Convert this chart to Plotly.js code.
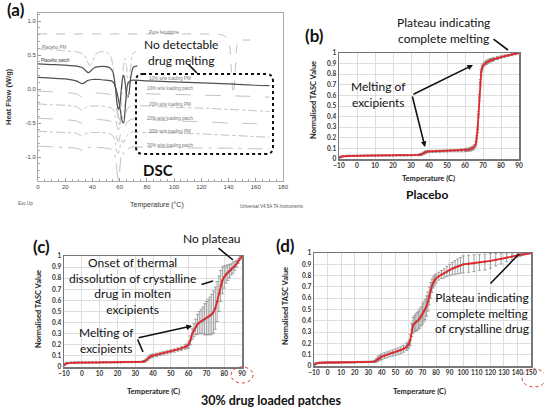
<!DOCTYPE html>
<html><head><meta charset="utf-8">
<script src="https://cdn.plot.ly/plotly-3.0.1.min.js"></script>
<style>html,body{margin:0;padding:0;background:#fff}#chart{width:544px;height:409px}</style>
</head><body><div id="chart"></div>
<script>
// ---------- DSC (a) data ----------
const felodipineTemp = [0,20,40,60,80,100,120,134,137,139,141,142,143,143.8,145,146,147,150,156];
const felodipineHF   = [0.81,0.81,0.81,0.81,0.81,0.81,0.81,0.80,0.78,0.74,0.6,0.3,0.0,-0.08,0.3,0.62,0.71,0.72,0.72];
const placeboPMTemp = [0,10,20,30,34,36,38,40,42,46,50,53,55,57,59,60,61,62,63,64,65,66,67,68,69,70,72];
const placeboPMHF   = [0.59,0.58,0.56,0.54,0.5,0.42,0.34,0.4,0.5,0.55,0.54,0.5,0.35,0.0,-0.4,-0.55,-0.3,0.1,0.38,0.45,0.35,0.1,0.05,0.3,0.48,0.53,0.55];
const placeboPatchTemp = [0,10,20,30,33,35,37,39,41,45,50,53,55,56,57,58,59,60,61,62,63,64,65,66,67,68,70,73];
const placeboPatchHF   = [0.37,0.36,0.35,0.33,0.31,0.27,0.24,0.27,0.31,0.33,0.33,0.31,0.25,0.15,0.0,-0.2,-0.3,-0.25,-0.05,0.15,0.2,0.1,-0.08,-0.12,-0.05,0.15,0.32,0.34];
const pm10Temp = [0,10,20,28,30,32,34,36,40,45,50,54,56,58,60,61,62,63,64,65,66,68,70,80,100,120,140,160,170];
const pm10HF   = [0.17,0.16,0.15,0.12,0.1,0.08,0.09,0.12,0.14,0.14,0.13,0.12,0.08,-0.05,-0.25,-0.38,-0.48,-0.5,-0.3,-0.05,0.08,0.12,0.13,0.12,0.105,0.09,0.075,0.055,0.05];
const loadingTemp = [0,10,20,28,30,32,34,36,40,45,50,54,56,57,58,59,60,61,62,63,64,66,68,70,80,100,120,140,160,170];
const patch10HF = [-0.03,-0.04,-0.05,-0.07,-0.09,-0.12,-0.1,-0.07,-0.06,-0.06,-0.07,-0.09,-0.14,-0.22,-0.33,-0.42,-0.45,-0.35,-0.25,-0.28,-0.22,-0.1,-0.07,-0.06,-0.07,-0.08,-0.09,-0.1,-0.11,-0.12];
const pm20HF    = [-0.22,-0.23,-0.24,-0.26,-0.28,-0.31,-0.29,-0.26,-0.25,-0.25,-0.26,-0.28,-0.33,-0.42,-0.55,-0.62,-0.58,-0.45,-0.4,-0.44,-0.38,-0.28,-0.25,-0.24,-0.25,-0.27,-0.28,-0.3,-0.32,-0.33];
const patch20HF = [-0.43,-0.44,-0.45,-0.47,-0.49,-0.5,-0.48,-0.46,-0.45,-0.45,-0.46,-0.48,-0.53,-0.62,-0.72,-0.78,-0.72,-0.6,-0.56,-0.6,-0.55,-0.48,-0.45,-0.44,-0.45,-0.47,-0.48,-0.5,-0.51,-0.52];
const pm30HF    = [-0.62,-0.63,-0.64,-0.65,-0.67,-0.69,-0.67,-0.65,-0.64,-0.64,-0.65,-0.67,-0.72,-0.82,-0.93,-0.95,-0.88,-0.78,-0.75,-0.79,-0.74,-0.67,-0.64,-0.63,-0.64,-0.65,-0.66,-0.68,-0.7,-0.71];
const patch30HF = [-0.84,-0.85,-0.86,-0.87,-0.88,-0.9,-0.88,-0.86,-0.86,-0.86,-0.87,-0.89,-0.94,-1.02,-1.2,-1.38,-1.2,-1.0,-0.93,-0.96,-0.92,-0.88,-0.86,-0.85,-0.86,-0.86,-0.87,-0.87,-0.88,-0.88];
const dscLabels = ["Pure felodipine","Placebo PM","Placebo patch","10% w/w loading PM","10% w/w loading patch","20% w/w loading PM","20% w/w loading patch","30% w/w loading PM","30% w/w loading patch"];

// ---------- TASC (b) Placebo ----------
const tempB = [-10,-9,-8,-6,-4,-2,0,2,4,6,8,10,12,14,16,18,20,22,24,26,28,30,32,34,35,36,37,38,39,40,42,44,46,48,50,52,54,56,58,60,61,62,63,64,65,66,66.5,67,67.5,68,68.5,69,69.5,70,71,72,73,74,75,76,78,80,82,84,86,88,90];
const tascB = [0.012,0.02,0.025,0.028,0.03,0.03,
 0.03,0.031,0.031,0.032,0.032,0.032,0.033,0.033,0.034,0.034,0.034,0.035,0.035,0.035,0.036,0.036,0.037,0.038,
 0.04,0.045,0.055,0.064,0.069,0.071,
 0.072,0.073,0.074,0.075,0.076,0.077,0.078,0.079,0.081,0.084,
 0.086,0.089,0.093,0.1,0.112,0.14,
 0.19,0.28,0.42,0.58,0.72,0.82,0.86,0.88,
 0.9,0.912,0.922,0.93,0.936,0.942,
 0.952,0.962,0.97,0.977,0.985,0.992,1.0];
const errB = [0.005,0.005,0.005,0.005,0.005,0.005,
 0.005,0.005,0.005,0.005,0.005,0.005,0.005,0.005,0.005,0.005,0.005,0.005,0.005,0.005,0.005,0.005,0.005,0.005,
 0.008,0.01,0.012,0.012,0.01,0.01,
 0.01,0.01,0.01,0.01,0.01,0.01,0.01,0.012,0.014,0.015,
 0.015,0.015,0.018,0.02,0.022,0.025,
 0.03,0.03,0.03,0.03,0.03,0.03,0.025,0.02,
 0.02,0.02,0.018,0.018,0.016,0.016,
 0.014,0.012,0.012,0.01,0.01,0.008,0.005];

// ---------- TASC (c) 30% PM ----------
const tempC = [-10,-9,-8,-6,-4,-2,0,2,4,6,8,10,12,14,16,18,20,22,24,26,28,30,32,34,35,36,37,38,39,40,42,44,46,48,50,52,54,56,58,59,60,61,62,63,64,65,66,67,68,69,70,71,72,73,74,75,76,77,78,79,80,81,82,83,84,85,86,87,88,89,90];
const tascC = [0.015,0.03,0.035,0.038,0.04,0.04,
 0.04,0.04,0.04,0.041,0.041,0.041,0.042,0.042,0.042,0.043,0.043,0.043,0.044,0.044,0.045,0.045,0.046,0.047,
 0.05,0.06,0.075,0.09,0.098,0.103,
 0.11,0.118,0.125,0.132,0.14,0.148,0.158,0.168,0.18,
 0.188,0.2,0.24,0.3,0.33,0.36,0.385,0.4,0.41,0.42,0.43,0.44,0.45,0.46,0.475,0.495,0.53,0.59,0.66,0.73,0.78,0.81,0.835,0.85,0.865,0.88,0.895,0.91,0.93,0.955,0.98,1.0];
const errC = [0.005,0.005,0.005,0.005,0.005,0.005,
 0.005,0.005,0.005,0.005,0.005,0.005,0.005,0.005,0.005,0.005,0.005,0.005,0.005,0.005,0.005,0.005,0.005,0.005,
 0.01,0.012,0.015,0.015,0.015,0.015,
 0.015,0.015,0.015,0.015,0.015,0.015,0.015,0.018,0.02,
 0.02,0.03,0.04,0.05,0.06,0.07,0.09,0.1,0.11,0.12,0.14,0.15,0.16,0.17,0.18,0.19,0.19,0.18,0.16,0.14,0.12,0.1,0.08,0.07,0.06,0.05,0.05,0.04,0.03,0.02,0.015,0.005];

// ---------- TASC (d) 30% patch ----------
const tempD = [-10,-9,-8,-6,-4,-2,0,2,4,6,8,10,12,14,16,18,20,22,24,26,28,30,32,34,35,36,37,38,39,40,42,44,46,48,50,52,54,56,58,59,60,61,62,63,64,65,66,67,68,69,70,71,72,73,74,75,76,77,78,79,80,82,84,86,88,90,92,94,96,98,100,104,108,112,116,120,124,128,132,136,140,142,144,146,148,150];
const tascD = [0.01,0.02,0.025,0.028,0.03,0.03,
 0.03,0.031,0.031,0.032,0.032,0.033,0.033,0.033,0.034,0.034,0.034,0.035,0.035,0.035,0.036,0.036,0.037,0.038,
 0.042,0.05,0.06,0.07,0.076,0.082,
 0.092,0.1,0.108,0.115,0.122,0.13,0.14,0.152,0.168,
 0.18,0.195,0.23,0.32,0.36,0.375,0.385,0.395,0.405,0.42,0.44,0.46,0.48,0.5,0.53,0.57,0.62,0.67,0.71,0.74,0.76,0.775,
 0.795,0.81,0.82,0.835,0.85,0.862,0.872,0.882,0.89,0.9,
 0.905,0.91,0.915,0.92,0.93,0.94,0.948,0.958,0.968,0.978,
 0.983,0.988,0.993,0.997,1.0];
const errD = [0.005,0.005,0.005,0.005,0.005,0.005,
 0.005,0.005,0.005,0.005,0.005,0.005,0.005,0.005,0.005,0.005,0.005,0.005,0.005,0.005,0.005,0.005,0.005,0.005,
 0.01,0.015,0.02,0.02,0.022,0.025,
 0.025,0.025,0.025,0.028,0.028,0.03,0.03,0.03,0.03,
 0.03,0.035,0.05,0.06,0.07,0.07,0.075,0.08,0.08,0.085,0.085,0.09,0.09,0.09,0.09,0.085,0.08,0.07,0.06,0.05,0.045,0.04,
 0.035,0.035,0.04,0.045,0.05,0.055,0.06,0.065,0.07,0.075,
 0.075,0.075,0.07,0.07,0.065,0.055,0.045,0.035,0.025,0.015,
 0.012,0.01,0.008,0.006,0.004];

const W = 544, H = 409;
const fx = x => x / W, fy = y => 1 - y / H;
const CAL = 'Lato, "Open Sans", sans-serif';
const ARI = '"Liberation Sans", Arial, sans-serif';

function dsc(x, y, color, dash, width) {
  return {x, y, type: 'scatter', mode: 'lines', xaxis: 'x', yaxis: 'y',
    line: {color, dash, width: width || 1, shape: 'spline', smoothing: 0.6}, hoverinfo: 'skip'};
}
function tascErr(x, y, e, ax) {
  return {x, y, type: 'scatter', mode: 'markers', xaxis: 'x' + ax, yaxis: 'y' + ax,
    marker: {color: '#8a8a8a', size: 2.5},
    error_y: {type: 'data', array: e, visible: true, color: '#8a8a8a', thickness: 0.8, width: 1.5}, hoverinfo: 'skip'};
}
function tascLine(x, y, ax) {
  return {x, y, type: 'scatter', mode: 'lines', xaxis: 'x' + ax, yaxis: 'y' + ax,
    line: {color: '#e3262b', width: 1.8}, hoverinfo: 'skip'};
}

const traces = [
  dsc(felodipineTemp, felodipineHF, '#bdbdbd', 'dash'),
  dsc(placeboPMTemp, placeboPMHF, '#c4c4c4', 'dashdot'),
  dsc(placeboPatchTemp, placeboPatchHF, '#505050', 'solid', 1.2),
  dsc(loadingTemp, patch10HF, '#c0c0c0', 'longdash'),
  dsc(loadingTemp, pm20HF, '#c0c0c0', 'dashdot'),
  dsc(loadingTemp, patch20HF, '#c0c0c0', 'longdash'),
  dsc(loadingTemp, pm30HF, '#c0c0c0', 'dashdot'),
  dsc(loadingTemp, patch30HF, '#c0c0c0', 'longdashdot'),
  dsc(pm10Temp, pm10HF, '#505050', 'solid', 1.2),
  tascErr(tempB, tascB, errB, 2), tascLine(tempB, tascB, 2),
  tascErr(tempC, tascC, errC, 3), tascLine(tempC, tascC, 3),
  tascErr(tempD, tascD, errD, 4), tascLine(tempD, tascD, 4)
];

function tascX(dom, range, anchor) {
  return {domain: dom, range: range, anchor: anchor, dtick: 10, tick0: 0, showgrid: true, gridcolor: '#dedede',
    gridwidth: 1, zeroline: false, showline: true, linecolor: '#777', linewidth: 1.5, mirror: true,
    ticks: '', ticklen: 0, tickfont: {family: CAL, size: 6.5, color: '#333', weight: 'bold'}, fixedrange: true};
}
function tascY(dom, anchor) {
  return {domain: dom, range: [0, 1], anchor: anchor, dtick: 0.1, showgrid: true, gridcolor: '#dedede',
    zeroline: false, showline: true, linecolor: '#777', linewidth: 1.5, mirror: true, ticks: '',
    tickfont: {family: CAL, size: 6.5, color: '#333', weight: 'bold'}, fixedrange: true};
}

function T(text, x, y, size, opts) {
  return Object.assign({text, xref: 'paper', yref: 'paper', x: fx(x), y: fy(y), showarrow: false,
    xanchor: 'center', yanchor: 'middle', font: {family: CAL, size: size, color: '#111'}}, opts || {});
}
function Arrow(x0, y0, x1, y1, head) {
  return {text: '', xref: 'paper', yref: 'paper', x: fx(x1), y: fy(y1), ax: x0 - x1, ay: y0 - y1,
    showarrow: true, arrowhead: head === undefined ? 2 : head, arrowsize: 0.7, arrowwidth: 1.6, arrowcolor: '#111'};
}

// DSC in-plot curve labels (pixel positions)
const labelPos = [[164, 32], [54, 47], [55, 61], [170, 79], [170, 89], [170, 104], [170, 119], [170, 132], [170, 145]];
const annotations = [];
dscLabels.forEach((t, i) => {
  annotations.push(T(t, labelPos[i][0], labelPos[i][1], 4.5,
    {font: {family: ARI, size: 4.5, color: i === 2 ? '#333' : '#777'}}));
});
annotations.push(
  T('<b>(a)</b>', 16, 9, 17, {font: {family: CAL, size: 17, color: '#111'}}),
  T('<b>(b)</b>', 314, 35, 17, {font: {family: CAL, size: 17, color: '#111'}}),
  T('<b>(c)</b>', 41, 246, 17, {font: {family: CAL, size: 17, color: '#111'}}),
  T('<b>(d)</b>', 285, 245, 17, {font: {family: CAL, size: 17, color: '#111'}}),
  // DSC
  T('No detectable<br>drug melting', 181, 52, 12),
  T('<b>DSC</b>', 158, 170, 15),
  T('Heat Flow (W/g)', 8, 97, 7.5, {textangle: -90, font: {family: ARI, size: 7.5, color: '#333', weight: 'bold'}}),
  T('Temperature (°C)', 157, 205, 7, {font: {family: ARI, size: 7, color: '#333'}}),
  T('Exo Up', 25, 203, 4.5, {font: {family: ARI, size: 4.5, color: '#555'}}),
  T('Universal V4.5A TA Instruments', 272, 207, 4.5, {font: {family: ARI, size: 4.5, color: '#555'}}),
  Arrow(187, 63, 197, 73, 0),
  // (b)
  T('Plateau indicating<br>complete melting', 443, 31, 12),
  T('Melting of<br>excipients', 378, 94, 12),
  T('Temperature (C)', 428, 178, 7.5, {font: {family: CAL, size: 7.5, color: '#222', weight: 'bold'}}),
  T('Normalised TASC Value', 313, 100, 7.5, {textangle: -90, font: {family: CAL, size: 7.5, color: '#222', weight: 'bold'}}),
  T('<b>Placebo</b>', 427, 195, 12),
  Arrow(412, 95, 473, 65),
  Arrow(412, 95, 425, 147),
  Arrow(492, 38, 508, 50, 0),
  // (c)
  T('No plateau', 212, 238, 12),
  Arrow(217, 247, 233, 260, 0),
  T('Onset of thermal<br>dissolution of crystalline<br>drug in molten<br>excipients', 132, 286, 12),
  Arrow(200, 285, 213, 281, 0),
  T('Melting of<br>excipients', 106, 340, 12),
  Arrow(137, 338, 192, 326),
  Arrow(137, 338, 143, 352, 0),
  T('Temperature (C)', 153, 391, 7.5, {font: {family: CAL, size: 7.5, color: '#222', weight: 'bold'}}),
  T('Normalised TASC Value', 38, 309, 7.5, {textangle: -90, font: {family: CAL, size: 7.5, color: '#222', weight: 'bold'}}),
  // (d)
  T('Plateau indicating<br>complete melting<br>of crystalline drug', 482, 313, 12),
  Arrow(489, 285, 519, 254, 0),
  T('Temperature (C)', 419, 391, 7.5, {font: {family: CAL, size: 7.5, color: '#222', weight: 'bold'}}),
  T('Normalised TASC Value', 285, 306, 7.5, {textangle: -90, font: {family: CAL, size: 7.5, color: '#222', weight: 'bold'}}),
  T('<b>30% drug loaded patches</b>', 271, 400, 12.5, {borderpad: 0})
);

// rounded dashed box in (a)
function roundRect(x0, y0, x1, y1, r) {
  const P = (x, y) => fx(x) + ',' + fy(y);
  return 'M' + P(x0 + r, y0) + ' L' + P(x1 - r, y0) + ' Q' + P(x1, y0) + ' ' + P(x1, y0 + r) +
    ' L' + P(x1, y1 - r) + ' Q' + P(x1, y1) + ' ' + P(x1 - r, y1) +
    ' L' + P(x0 + r, y1) + ' Q' + P(x0, y1) + ' ' + P(x0, y1 - r) +
    ' L' + P(x0, y0 + r) + ' Q' + P(x0, y0) + ' ' + P(x0 + r, y0) + ' Z';
}
const shapes = [
  {type: 'path', xref: 'paper', yref: 'paper', path: roundRect(136, 74, 273, 154, 7),
    line: {color: '#111', width: 2, dash: 'dot'}},
  {type: 'circle', xref: 'paper', yref: 'paper', x0: fx(231), x1: fx(253), y0: fy(383), y1: fy(367),
    line: {color: '#e03030', width: 1, dash: 'dot'}},
  {type: 'circle', xref: 'paper', yref: 'paper', x0: fx(522), x1: fx(546), y0: fy(387), y1: fy(369),
    line: {color: '#e03030', width: 1, dash: 'dot'}}
];

const layout = {
  width: W, height: H, margin: {l: 0, r: 0, t: 0, b: 0}, paper_bgcolor: '#fff', plot_bgcolor: '#fff',
  showlegend: false,
  xaxis: {domain: [fx(38), fx(283)], range: [0, 180], anchor: 'y', dtick: 20, showgrid: false, zeroline: false,
    showline: true, linecolor: '#aaa', linewidth: 1, mirror: true, ticks: 'inside', ticklen: 3, tickcolor: '#999',
    minor: {dtick: 5, ticks: 'inside', ticklen: 2, tickcolor: '#aaa'},
    tickfont: {family: ARI, size: 6, color: '#444'}, fixedrange: true},
  yaxis: {domain: [fy(181), fy(13)], range: [-1.353, 1.118], anchor: 'x', tickvals: [-1, -0.5, 0, 0.5, 1],
    ticktext: ['-1.0', '-0.5', '0.0', '0.5', '1.0'], showgrid: false, zeroline: false, showline: true,
    linecolor: '#aaa', linewidth: 1, mirror: true, ticks: 'inside', ticklen: 3, tickcolor: '#999',
    minor: {dtick: 0.1, ticks: 'inside', ticklen: 2, tickcolor: '#aaa'},
    tickfont: {family: ARI, size: 6, color: '#444'}, fixedrange: true},
  xaxis2: tascX([fx(339), fx(519)], [-10, 90], 'y2'),
  yaxis2: tascY([fy(159), fy(53)], 'x2'),
  xaxis3: tascX([fx(64), fx(242)], [-10, 90], 'y3'),
  yaxis3: tascY([fy(367), fy(256)], 'x3'),
  xaxis4: tascX([fx(314), fx(531)], [-10, 150], 'y4'),
  yaxis4: tascY([fy(366), fy(253)], 'x4'),
  annotations, shapes
};

Plotly.newPlot('chart', traces, layout, {displayModeBar: false, staticPlot: true});
</script></body></html>
